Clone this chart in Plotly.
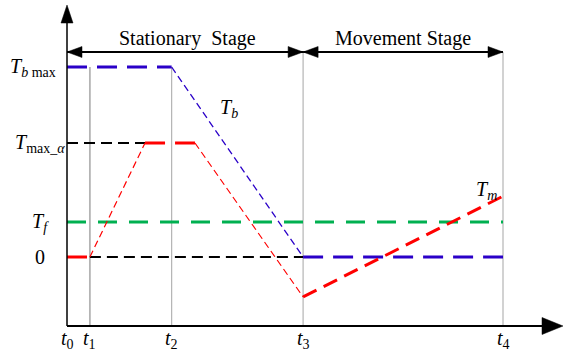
import plotly.graph_objects as go

# ---- time instants (abscissa) and torque levels (ordinate) ----
tick_names = ["t<sub>0</sub>", "t<sub>1</sub>", "t<sub>2</sub>", "t<sub>3</sub>", "t<sub>4</sub>"]
t_ticks = [0.0, 1.05, 4.8, 10.83, 20.0]

T_b_max = 10.0
T_max_alpha = 6.0
T_f = 1.84
T_zero = 0.0

# braking torque T_b
tb_x = [0.0, 4.8, 10.83, 20.0]
tb_y = [10.0, 10.0, 0.0, 0.0]
tb_thick = [True, False, True]

# motor torque T_m
tm_x = [0.0, 1.05, 3.58, 5.87, 10.83, 20.0]
tm_y = [0.0, 0.0, 6.0, 6.0, -2.1, 3.2]
tm_thick = [True, False, True, False, True]

# ---- pixel geometry of the drawing ----
W, H = 567, 356
X0_PX, Y0_PX = 67, 257          # pixel position of t0 / zero torque
SX, SY = 21.8, 19.0              # pixels per data unit
x_range = [-X0_PX / SX, (W - X0_PX) / SX]
y_range = [(Y0_PX - H) / SY, Y0_PX / SY]
X_AXIS_Y = (Y0_PX - 326) / SY
Y_AXIS_TOP = (Y0_PX - 5) / SY
X_AXIS_END = (563 - X0_PX) / SX
STAGE_Y = (Y0_PX - 52) / SY


def px(x):
    return X0_PX + x * SX


def py(y):
    return Y0_PX - y * SY


def paper(xp, yp):
    return xp / W, 1 - yp / H


def arrow_head(tip_x, tip_y, dx, dy, length, half):
    """Filled triangle in paper coords; tip given in pixels, (dx,dy) is direction."""
    bx, by = tip_x - dx * length, tip_y - dy * length
    nx, ny = -dy, dx
    pts = [(tip_x, tip_y), (bx + nx * half, by + ny * half), (bx - nx * half, by - ny * half)]
    pp = [paper(a, b) for a, b in pts]
    path = "M {} {} L {} {} L {} {} Z".format(*[v for p in pp for v in p])
    return dict(type="path", xref="paper", yref="paper", path=path,
                fillcolor="black", line=dict(color="black", width=0.5), layer="above")


BLUE = "#2a00c8"
RED = "#ff0000"
GREEN = "#00b050"
GRAY = "#b4b4b4"
FONT = "Liberation Serif"

fig = go.Figure()

# vertical reference lines at the time instants
for i, t in enumerate(t_ticks[1:], start=1):
    top = T_b_max if i <= 2 else STAGE_Y
    fig.add_trace(go.Scatter(x=[t, t], y=[X_AXIS_Y, top], mode="lines",
                             line=dict(color=GRAY, width=1.8 if i == 1 else 1.2),
                             hoverinfo="skip", showlegend=False))

# black reference dashes: T_max_alpha level and zero level
fig.add_trace(go.Scatter(x=[0, tm_x[2]], y=[T_max_alpha, T_max_alpha], mode="lines",
                         line=dict(color="black", width=1.8, dash="11px,6px"),
                         showlegend=False))
fig.add_trace(go.Scatter(x=[t_ticks[1], t_ticks[3]], y=[T_zero, T_zero], mode="lines",
                         line=dict(color="black", width=1.8, dash="11px,6px"),
                         showlegend=False))

# friction torque T_f
fig.add_trace(go.Scatter(x=[0, t_ticks[4]], y=[T_f, T_f], mode="lines",
                         line=dict(color=GREEN, width=3, dash="19px,12px"),
                         showlegend=False))

# braking torque T_b
for i, thick in enumerate(tb_thick):
    fig.add_trace(go.Scatter(x=tb_x[i:i + 2], y=tb_y[i:i + 2], mode="lines",
                             line=dict(color=BLUE, width=3 if thick else 1.3,
                                       dash="20px,10px" if thick else "7px,4px"),
                             showlegend=False))

# motor torque T_m
for i, thick in enumerate(tm_thick):
    dash = "7px,4px"
    if thick:
        dash = "20px,10px" if i < 4 else "15px,8px"
    fig.add_trace(go.Scatter(x=tm_x[i:i + 2], y=tm_y[i:i + 2], mode="lines",
                             line=dict(color=RED, width=3 if thick else 1.2, dash=dash),
                             showlegend=False))

shapes = []
# coordinate axes
shapes.append(dict(type="line", xref="x", yref="y", x0=0, x1=X_AXIS_END - 0.5,
                   y0=X_AXIS_Y, y1=X_AXIS_Y, line=dict(color="black", width=2)))
shapes.append(dict(type="line", xref="x", yref="y", x0=0, x1=0,
                   y0=X_AXIS_Y, y1=Y_AXIS_TOP - 0.5, line=dict(color="black", width=1.5)))
shapes.append(arrow_head(px(X_AXIS_END), py(X_AXIS_Y), 1, 0, 21, 8.5))
shapes.append(arrow_head(px(0), py(Y_AXIS_TOP), 0, -1, 18, 6))

# stage span arrows
for a, b in [(0, t_ticks[3]), (t_ticks[3], t_ticks[4])]:
    shapes.append(dict(type="line", xref="x", yref="y", x0=a, x1=b, y0=STAGE_Y, y1=STAGE_Y,
                       line=dict(color="black", width=1.8)))
    shapes.append(arrow_head(px(a), py(STAGE_Y), -1, 0, 15, 5.5))
    shapes.append(arrow_head(px(b), py(STAGE_Y), 1, 0, 15, 5.5))


def label(**kw):
    d = dict(showarrow=False, font=dict(family=FONT, size=20, color="black"))
    d.update(kw)
    return d


ann = []
# stage titles
ann.append(label(x=(0 + t_ticks[3]) / 2 + 0.1, y=STAGE_Y, xref="x", yref="y",
                 yanchor="bottom", yshift=0, text="Stationary&nbsp;&nbsp;Stage"))
ann.append(label(x=(t_ticks[3] + t_ticks[4]) / 2, y=STAGE_Y, xref="x", yref="y",
                 yanchor="bottom", yshift=0, text="Movement Stage"))

# level labels on the vertical axis
level_labels = [
    (T_b_max, "<i>T</i><sub><i>b</i> max</sub>"),
    (T_max_alpha, "<i>T</i><sub>max_<i>α</i></sub>"),
    (T_f, "<i>T</i><sub><i>f</i></sub>"),
    (T_zero, "0"),
]
label_right_px = [58, 67, 51, 47]
for (lv, txt), rp in zip(level_labels, label_right_px):
    ann.append(label(x=rp / W, y=lv, xref="paper", yref="y",
                     xanchor="right", yanchor="middle", text=txt))

# time instant labels under the horizontal axis
for t, name in zip(t_ticks, tick_names):
    ann.append(label(x=t, y=X_AXIS_Y, xref="x", yref="y", xanchor="center",
                     yanchor="top", yshift=1, text="<i>t</i>" + name[1:]))

# curve names
ann.append(label(x=(229 - X0_PX) / SX, y=(Y0_PX - 108) / SY, xref="x", yref="y",
                 text="<i>T</i><sub><i>b</i></sub>"))
ann.append(label(x=(486 - X0_PX) / SX, y=(Y0_PX - 190) / SY, xref="x", yref="y",
                 text="<i>T</i><sub><i>m</i></sub>"))

fig.update_layout(
    width=W, height=H,
    margin=dict(l=0, r=0, t=0, b=0),
    paper_bgcolor="white", plot_bgcolor="white",
    xaxis=dict(range=x_range, visible=False, fixedrange=True),
    yaxis=dict(range=y_range, visible=False, fixedrange=True),
    shapes=shapes, annotations=ann, showlegend=False,
)

fig.write_html("out.html")
